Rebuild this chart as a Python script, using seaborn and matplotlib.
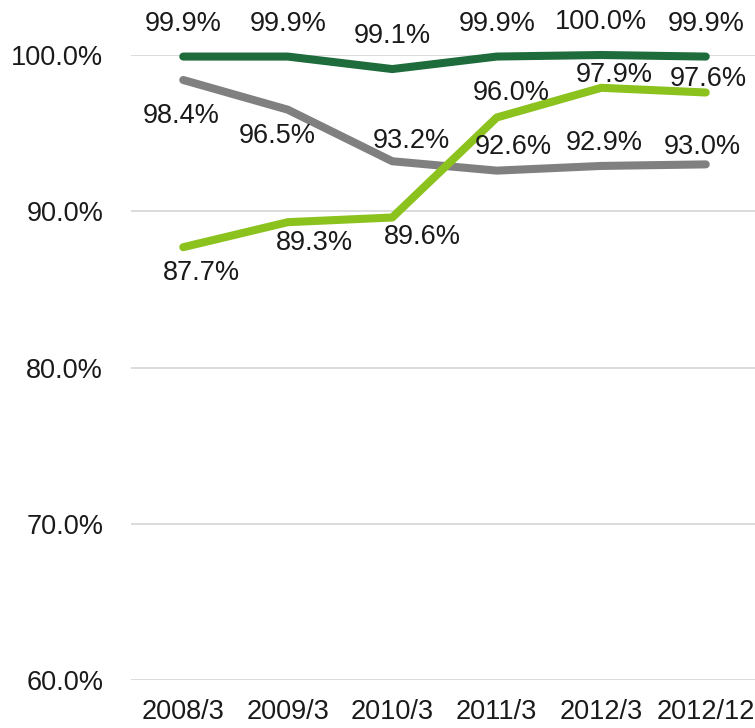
import matplotlib
matplotlib.use("Agg")
import matplotlib.pyplot as plt
import seaborn as sns
import pandas as pd
from matplotlib.ticker import FuncFormatter

categories = ["2008/3", "2009/3", "2010/3", "2011/3", "2012/3", "2012/12"]
series_dark = [99.9, 99.9, 99.1, 99.9, 100.0, 99.9]
series_gray = [98.4, 96.5, 93.2, 92.6, 92.9, 93.0]
series_light = [87.7, 89.3, 89.6, 96.0, 97.9, 97.6]
y_ticks = [60, 70, 80, 90, 100]

# label offsets in pixels (dx, dy; dy positive = down)
off_dark = [(0, -33)] * 6
off_gray = [(-2, 36), (-11, 26), (19, -20), (17, -24), (3, -23), (-3, -17)]
off_light = [(18, 26), (27, 21), (30, 19), (15, -25), (13, -13), (3, -13)]

sns.set_theme(style="white")
plt.rcParams['font.family'] = ['Liberation Sans', 'DejaVu Sans']

W, H = 755, 728
fig = plt.figure(figsize=(W / 100, H / 100), dpi=100)
left, right, top, bottom = 131, 758, 55, 680
ax = fig.add_axes([left / W, (H - bottom) / H, (right - left) / W, (bottom - top) / H])

rows = []
for name, vals in [("dark", series_dark), ("gray", series_gray), ("light", series_light)]:
    for i, (c, v) in enumerate(zip(categories, vals)):
        rows.append({"series": name, "x": i, "value": v})
df = pd.DataFrame(rows)

palette = {"dark": "#1e6b3c", "gray": "#808080", "light": "#8cc21e"}
sns.lineplot(data=df, x="x", y="value", hue="series", palette=palette,
             linewidth=5.8, ax=ax, legend=False, clip_on=False,
             solid_capstyle="round", solid_joinstyle="round")

ax.set_xlim(-0.5, len(categories) - 0.5)
ax.set_ylim(60, 100)
ax.set_yticks(y_ticks)
ax.yaxis.set_major_formatter(FuncFormatter(lambda v, p: f"{v:.1f}%"))
ax.set_xticks(range(len(categories)))
ax.set_xticklabels(categories)
ax.grid(axis="y", color="#d9d9d9", linewidth=1.3)
ax.set_axisbelow(True)
for s in ax.spines.values():
    s.set_visible(False)
ax.tick_params(axis="y", length=0, pad=20, labelsize=19.5, labelcolor="#1a1a1a")
ax.tick_params(axis="x", length=0, pad=13.5, labelsize=19.5, labelcolor="#1a1a1a")
ax.set_xlabel("")
ax.set_ylabel("")

for vals, offs in [(series_dark, off_dark), (series_gray, off_gray), (series_light, off_light)]:
    for i, (v, (dx, dy)) in enumerate(zip(vals, offs)):
        ax.annotate(f"{v:.1f}%", (i, v), xytext=(dx, -dy), textcoords="offset pixels",
                    ha="center", va="center", fontsize=19.5, color="#1a1a1a",
                    annotation_clip=False)

fig.savefig("out.png", dpi=100)
